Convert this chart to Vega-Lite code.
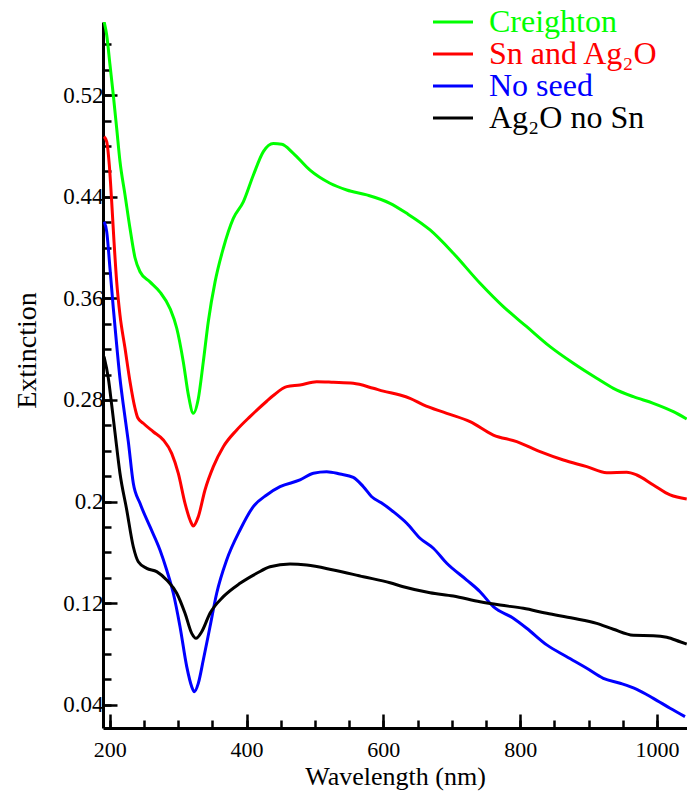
{
  "$schema": "https://vega.github.io/schema/vega-lite/v6.json",
  "width": 584,
  "height": 706,
  "autosize": {"type": "none"},
  "padding": {"left": 103, "top": 22, "right": 0, "bottom": 64},
  "background": "white",
  "config": {"view": {"stroke": null}, "axis": {"grid": false}},
  "datasets": {
    "curves": [
      {"s": "Creighton", "w": 191.8, "e": 0.578},
      {"s": "Creighton", "w": 195.6, "e": 0.5675},
      {"s": "Creighton", "w": 200.4, "e": 0.544},
      {"s": "Creighton", "w": 205.3, "e": 0.520},
      {"s": "Creighton", "w": 210.2, "e": 0.494},
      {"s": "Creighton", "w": 215, "e": 0.468},
      {"s": "Creighton", "w": 222.4, "e": 0.4415},
      {"s": "Creighton", "w": 229.7, "e": 0.415},
      {"s": "Creighton", "w": 237, "e": 0.392},
      {"s": "Creighton", "w": 244.3, "e": 0.381},
      {"s": "Creighton", "w": 258.9, "e": 0.373},
      {"s": "Creighton", "w": 273.5, "e": 0.365},
      {"s": "Creighton", "w": 288.2, "e": 0.352},
      {"s": "Creighton", "w": 298, "e": 0.3365},
      {"s": "Creighton", "w": 307.6, "e": 0.310},
      {"s": "Creighton", "w": 315, "e": 0.284},
      {"s": "Creighton", "w": 322.2, "e": 0.2695},
      {"s": "Creighton", "w": 329.5, "e": 0.281},
      {"s": "Creighton", "w": 336.8, "e": 0.310},
      {"s": "Creighton", "w": 344.2, "e": 0.342},
      {"s": "Creighton", "w": 354, "e": 0.373},
      {"s": "Creighton", "w": 366.1, "e": 0.3995},
      {"s": "Creighton", "w": 380.7, "e": 0.423},
      {"s": "Creighton", "w": 395.3, "e": 0.436},
      {"s": "Creighton", "w": 409.9, "e": 0.457},
      {"s": "Creighton", "w": 424.6, "e": 0.4756},
      {"s": "Creighton", "w": 439.2, "e": 0.482},
      {"s": "Creighton", "w": 451.5, "e": 0.4814},
      {"s": "Creighton", "w": 468.4, "e": 0.4743},
      {"s": "Creighton", "w": 492.8, "e": 0.461},
      {"s": "Creighton", "w": 522, "e": 0.4507},
      {"s": "Creighton", "w": 546.5, "e": 0.4454},
      {"s": "Creighton", "w": 575.7, "e": 0.4415},
      {"s": "Creighton", "w": 609.8, "e": 0.4349},
      {"s": "Creighton", "w": 634.2, "e": 0.427},
      {"s": "Creighton", "w": 668.3, "e": 0.4139},
      {"s": "Creighton", "w": 702.3, "e": 0.3956},
      {"s": "Creighton", "w": 741.4, "e": 0.3719},
      {"s": "Creighton", "w": 775.4, "e": 0.3535},
      {"s": "Creighton", "w": 809.6, "e": 0.3377},
      {"s": "Creighton", "w": 843.7, "e": 0.322},
      {"s": "Creighton", "w": 877.8, "e": 0.3089},
      {"s": "Creighton", "w": 911.9, "e": 0.2971},
      {"s": "Creighton", "w": 936.3, "e": 0.2892},
      {"s": "Creighton", "w": 965.5, "e": 0.2826},
      {"s": "Creighton", "w": 994.7, "e": 0.2774},
      {"s": "Creighton", "w": 1024, "e": 0.2708},
      {"s": "Creighton", "w": 1043.5, "e": 0.265},

      {"s": "Sn and Ag₂O", "w": 191.7, "e": 0.4874},
      {"s": "Sn and Ag₂O", "w": 195.6, "e": 0.4835},
      {"s": "Sn and Ag₂O", "w": 199.4, "e": 0.4651},
      {"s": "Sn and Ag₂O", "w": 202.9, "e": 0.4362},
      {"s": "Sn and Ag₂O", "w": 206.3, "e": 0.4047},
      {"s": "Sn and Ag₂O", "w": 210.2, "e": 0.3732},
      {"s": "Sn and Ag₂O", "w": 215, "e": 0.347},
      {"s": "Sn and Ag₂O", "w": 222.4, "e": 0.3207},
      {"s": "Sn and Ag₂O", "w": 229.7, "e": 0.2944},
      {"s": "Sn and Ag₂O", "w": 237, "e": 0.2735},
      {"s": "Sn and Ag₂O", "w": 241, "e": 0.266},
      {"s": "Sn and Ag₂O", "w": 249, "e": 0.2617},
      {"s": "Sn and Ag₂O", "w": 263.7, "e": 0.255},
      {"s": "Sn and Ag₂O", "w": 278.4, "e": 0.2485},
      {"s": "Sn and Ag₂O", "w": 290.6, "e": 0.238},
      {"s": "Sn and Ag₂O", "w": 300.3, "e": 0.2222},
      {"s": "Sn and Ag₂O", "w": 310.1, "e": 0.1986},
      {"s": "Sn and Ag₂O", "w": 317.4, "e": 0.1855},
      {"s": "Sn and Ag₂O", "w": 322.2, "e": 0.1808},
      {"s": "Sn and Ag₂O", "w": 329.5, "e": 0.1881},
      {"s": "Sn and Ag₂O", "w": 339.3, "e": 0.2091},
      {"s": "Sn and Ag₂O", "w": 351.5, "e": 0.2275},
      {"s": "Sn and Ag₂O", "w": 366.1, "e": 0.2432},
      {"s": "Sn and Ag₂O", "w": 385.7, "e": 0.2564},
      {"s": "Sn and Ag₂O", "w": 405.1, "e": 0.2669},
      {"s": "Sn and Ag₂O", "w": 429.5, "e": 0.279},
      {"s": "Sn and Ag₂O", "w": 439.2, "e": 0.2835},
      {"s": "Sn and Ag₂O", "w": 458.8, "e": 0.2905},
      {"s": "Sn and Ag₂O", "w": 478.2, "e": 0.2918},
      {"s": "Sn and Ag₂O", "w": 502.6, "e": 0.2944},
      {"s": "Sn and Ag₂O", "w": 527, "e": 0.2939},
      {"s": "Sn and Ag₂O", "w": 556.1, "e": 0.2931},
      {"s": "Sn and Ag₂O", "w": 585.4, "e": 0.2892},
      {"s": "Sn and Ag₂O", "w": 600, "e": 0.287},
      {"s": "Sn and Ag₂O", "w": 624.4, "e": 0.2839},
      {"s": "Sn and Ag₂O", "w": 639, "e": 0.2813},
      {"s": "Sn and Ag₂O", "w": 658.5, "e": 0.2761},
      {"s": "Sn and Ag₂O", "w": 692.7, "e": 0.2695},
      {"s": "Sn and Ag₂O", "w": 726.8, "e": 0.2629},
      {"s": "Sn and Ag₂O", "w": 760.8, "e": 0.2524},
      {"s": "Sn and Ag₂O", "w": 795, "e": 0.2472},
      {"s": "Sn and Ag₂O", "w": 829.1, "e": 0.2393},
      {"s": "Sn and Ag₂O", "w": 863.2, "e": 0.2327},
      {"s": "Sn and Ag₂O", "w": 897.4, "e": 0.2275},
      {"s": "Sn and Ag₂O", "w": 926.6, "e": 0.2227},
      {"s": "Sn and Ag₂O", "w": 955.8, "e": 0.2231},
      {"s": "Sn and Ag₂O", "w": 970.5, "e": 0.2209},
      {"s": "Sn and Ag₂O", "w": 994.7, "e": 0.2131},
      {"s": "Sn and Ag₂O", "w": 1019.2, "e": 0.2052},
      {"s": "Sn and Ag₂O", "w": 1043.5, "e": 0.202},

      {"s": "No seed", "w": 191.7, "e": 0.4204},
      {"s": "No seed", "w": 195.6, "e": 0.4126},
      {"s": "No seed", "w": 200.4, "e": 0.3837},
      {"s": "No seed", "w": 205.3, "e": 0.3522},
      {"s": "No seed", "w": 210.2, "e": 0.3233},
      {"s": "No seed", "w": 215, "e": 0.2971},
      {"s": "No seed", "w": 219.9, "e": 0.2761},
      {"s": "No seed", "w": 227.2, "e": 0.2472},
      {"s": "No seed", "w": 234.5, "e": 0.2144},
      {"s": "No seed", "w": 244.3, "e": 0.1986},
      {"s": "No seed", "w": 258.9, "e": 0.1802},
      {"s": "No seed", "w": 273.5, "e": 0.1619},
      {"s": "No seed", "w": 283.3, "e": 0.1461},
      {"s": "No seed", "w": 293, "e": 0.1278},
      {"s": "No seed", "w": 302.8, "e": 0.1014},
      {"s": "No seed", "w": 312.6, "e": 0.07},
      {"s": "No seed", "w": 319.9, "e": 0.0542},
      {"s": "No seed", "w": 323.7, "e": 0.0502},
      {"s": "No seed", "w": 329.5, "e": 0.0568},
      {"s": "No seed", "w": 336.8, "e": 0.0752},
      {"s": "No seed", "w": 346.6, "e": 0.1014},
      {"s": "No seed", "w": 356.4, "e": 0.1278},
      {"s": "No seed", "w": 371, "e": 0.154},
      {"s": "No seed", "w": 390.5, "e": 0.1776},
      {"s": "No seed", "w": 409.9, "e": 0.196},
      {"s": "No seed", "w": 429.5, "e": 0.2052},
      {"s": "No seed", "w": 449, "e": 0.2117},
      {"s": "No seed", "w": 478.2, "e": 0.217},
      {"s": "No seed", "w": 497.7, "e": 0.2223},
      {"s": "No seed", "w": 517.2, "e": 0.2235},
      {"s": "No seed", "w": 536.7, "e": 0.2217},
      {"s": "No seed", "w": 556.1, "e": 0.2191},
      {"s": "No seed", "w": 570.8, "e": 0.2117},
      {"s": "No seed", "w": 583, "e": 0.2038},
      {"s": "No seed", "w": 597, "e": 0.199},
      {"s": "No seed", "w": 614.6, "e": 0.192},
      {"s": "No seed", "w": 634.2, "e": 0.1829},
      {"s": "No seed", "w": 653.6, "e": 0.1711},
      {"s": "No seed", "w": 673.1, "e": 0.1632},
      {"s": "No seed", "w": 692.7, "e": 0.1514},
      {"s": "No seed", "w": 721.9, "e": 0.1382},
      {"s": "No seed", "w": 741.4, "e": 0.129},
      {"s": "No seed", "w": 760.8, "e": 0.1172},
      {"s": "No seed", "w": 790, "e": 0.1081},
      {"s": "No seed", "w": 809.6, "e": 0.1002},
      {"s": "No seed", "w": 838.9, "e": 0.0871},
      {"s": "No seed", "w": 868.1, "e": 0.0778},
      {"s": "No seed", "w": 897.4, "e": 0.0687},
      {"s": "No seed", "w": 921.6, "e": 0.0608},
      {"s": "No seed", "w": 946.1, "e": 0.0569},
      {"s": "No seed", "w": 970.5, "e": 0.0521},
      {"s": "No seed", "w": 994.7, "e": 0.045},
      {"s": "No seed", "w": 1019.2, "e": 0.0372},
      {"s": "No seed", "w": 1041, "e": 0.0306},

      {"s": "Ag₂O no Sn", "w": 191.7, "e": 0.3141},
      {"s": "Ag₂O no Sn", "w": 198, "e": 0.2971},
      {"s": "Ag₂O no Sn", "w": 202.9, "e": 0.2761},
      {"s": "Ag₂O no Sn", "w": 207.7, "e": 0.2545},
      {"s": "Ag₂O no Sn", "w": 215, "e": 0.2223},
      {"s": "Ag₂O no Sn", "w": 224.9, "e": 0.1934},
      {"s": "Ag₂O no Sn", "w": 234.5, "e": 0.1644},
      {"s": "Ag₂O no Sn", "w": 241.8, "e": 0.1526},
      {"s": "Ag₂O no Sn", "w": 254.1, "e": 0.1474},
      {"s": "Ag₂O no Sn", "w": 268.7, "e": 0.1448},
      {"s": "Ag₂O no Sn", "w": 283.3, "e": 0.1382},
      {"s": "Ag₂O no Sn", "w": 298, "e": 0.1278},
      {"s": "Ag₂O no Sn", "w": 310.1, "e": 0.112},
      {"s": "Ag₂O no Sn", "w": 319.9, "e": 0.0962},
      {"s": "Ag₂O no Sn", "w": 326.2, "e": 0.0923},
      {"s": "Ag₂O no Sn", "w": 334.5, "e": 0.0975},
      {"s": "Ag₂O no Sn", "w": 346.6, "e": 0.112},
      {"s": "Ag₂O no Sn", "w": 366.1, "e": 0.1251},
      {"s": "Ag₂O no Sn", "w": 390.5, "e": 0.1356},
      {"s": "Ag₂O no Sn", "w": 414.9, "e": 0.1435},
      {"s": "Ag₂O no Sn", "w": 434.4, "e": 0.1487},
      {"s": "Ag₂O no Sn", "w": 463.6, "e": 0.1508},
      {"s": "Ag₂O no Sn", "w": 488, "e": 0.15},
      {"s": "Ag₂O no Sn", "w": 527, "e": 0.1461},
      {"s": "Ag₂O no Sn", "w": 570.8, "e": 0.1408},
      {"s": "Ag₂O no Sn", "w": 609.8, "e": 0.1361},
      {"s": "Ag₂O no Sn", "w": 629.2, "e": 0.1329},
      {"s": "Ag₂O no Sn", "w": 668.3, "e": 0.1282},
      {"s": "Ag₂O no Sn", "w": 702.3, "e": 0.1256},
      {"s": "Ag₂O no Sn", "w": 741.4, "e": 0.1211},
      {"s": "Ag₂O no Sn", "w": 770.6, "e": 0.1185},
      {"s": "Ag₂O no Sn", "w": 804.7, "e": 0.1159},
      {"s": "Ag₂O no Sn", "w": 838.9, "e": 0.112},
      {"s": "Ag₂O no Sn", "w": 877.8, "e": 0.1081},
      {"s": "Ag₂O no Sn", "w": 911.9, "e": 0.1041},
      {"s": "Ag₂O no Sn", "w": 936.3, "e": 0.0994},
      {"s": "Ag₂O no Sn", "w": 965.5, "e": 0.0947},
      {"s": "Ag₂O no Sn", "w": 994.7, "e": 0.0944},
      {"s": "Ag₂O no Sn", "w": 1014.3, "e": 0.0931},
      {"s": "Ag₂O no Sn", "w": 1033.8, "e": 0.0896},
      {"s": "Ag₂O no Sn", "w": 1043.5, "e": 0.0878}
    ]
  },
  "data": {"name": "curves"},
  "resolve": {"axis": {"x": "independent", "y": "independent"}},
  "layer": [
    {
      "mark": {"type": "line", "strokeOpacity": 0, "clip": true},
      "encoding": {
        "x": {"field": "w", "type": "quantitative",
          "scale": {"domain": [190.2, 1043.9], "nice": false, "zero": false},
          "axis": {"orient": "bottom", "values": [200,250,300,350,400,450,500,550,600,650,700,750,800,850,900,950,1000],
            "tickSize": -8, "tickWidth": 2.5, "tickColor": "black", "labels": false, "domain": false, "title": null, "grid": false}},
        "y": {"field": "e", "type": "quantitative",
          "scale": {"domain": [0.02165, 0.5777], "nice": false, "zero": false},
          "axis": {"orient": "left", "values": [0.04,0.06,0.08,0.1,0.12,0.14,0.16,0.18,0.2,0.22,0.24,0.26,0.28,0.3,0.32,0.34,0.36,0.38,0.4,0.42,0.44,0.46,0.48,0.5,0.52,0.54,0.56],
            "tickSize": -8, "tickWidth": 2.5, "tickColor": "black", "labels": false, "domain": false, "title": null, "grid": false}},
        "detail": {"field": "s"}
      }
    },
    {
      "mark": {"type": "line", "strokeWidth": 3, "interpolate": "monotone", "clip": true},
      "encoding": {
        "x": {"field": "w", "type": "quantitative",
          "axis": {"orient": "bottom", "values": [200, 400, 600, 800, 1000],
            "labelExpr": "format(datum.value, 'd')",
            "tickSize": -14, "tickWidth": 2.5, "tickColor": "black",
            "domainWidth": 3, "domainColor": "black",
            "labelFont": "Liberation Serif", "labelFontSize": 22, "labelColor": "black", "labelPadding": 25,
            "title": "Wavelength (nm)", "titleFont": "Liberation Serif", "titleFontSize": 26, "titleFontWeight": "normal",
            "titleColor": "black", "titleBaseline": "alphabetic", "titleY": 56, "grid": false}},
        "y": {"field": "e", "type": "quantitative",
          "axis": {"orient": "left", "values": [0.04, 0.12, 0.2, 0.28, 0.36, 0.44, 0.52],
            "labelExpr": "format(datum.value, '~g')",
            "tickSize": -14, "tickWidth": 2.5, "tickColor": "black",
            "domainWidth": 3, "domainColor": "black",
            "labelFont": "Liberation Serif", "labelFontSize": 23, "labelColor": "black", "labelPadding": 14,
            "title": "Extinction", "titleFont": "Liberation Serif", "titleFontSize": 28, "titleFontWeight": "normal",
            "titleColor": "black", "titleAngle": -90, "titleBaseline": "alphabetic", "titleAlign": "center",
            "titleX": -68, "titleY": 328, "grid": false}},
        "color": {"field": "s", "type": "nominal",
          "scale": {"domain": ["Creighton", "Sn and Ag₂O", "No seed", "Ag₂O no Sn"],
                    "range": ["#00ff00", "#ff0000", "#0000ff", "#000000"]},
          "legend": {"orient": "none", "legendX": 334, "legendY": -16, "title": null,
            "symbolType": "M-2,0H2", "symbolSize": 400, "symbolStrokeWidth": 3,
            "labelFont": "Liberation Serif", "labelFontSize": 32, "labelOffset": 20, "labelLimit": 0,
            "rowPadding": 0, "padding": 0,
            "labelColor": {"expr": "scale('color', datum.value)"}}}
      }
    }
  ]
}
